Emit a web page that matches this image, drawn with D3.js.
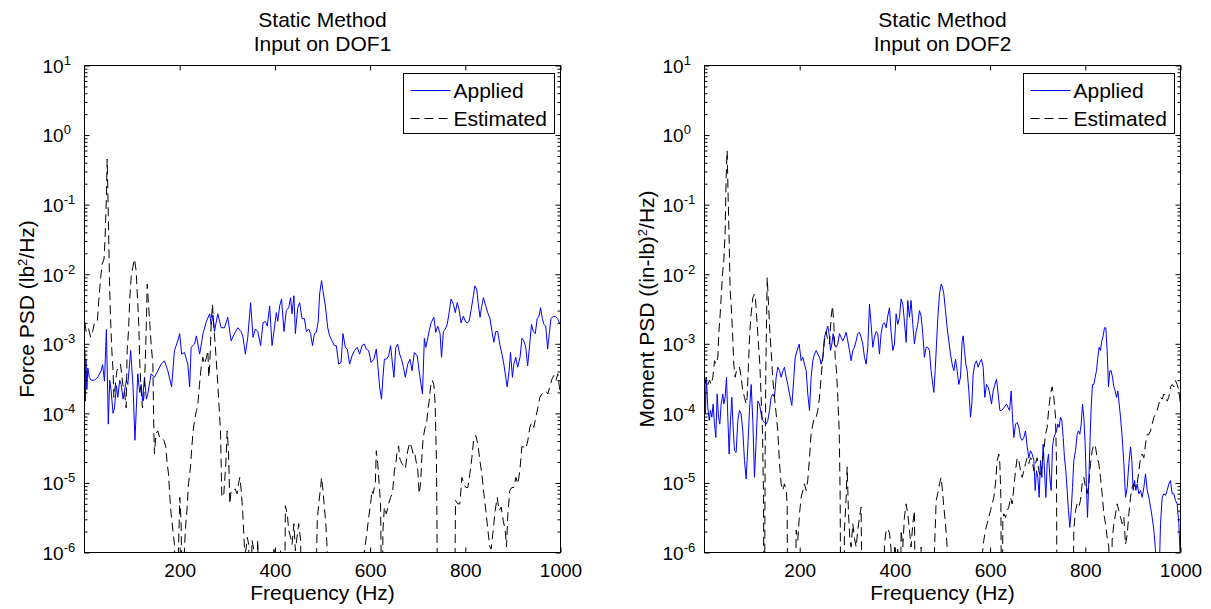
<!DOCTYPE html>
<html>
<head>
<meta charset="utf-8">
<script src="https://cdn.jsdelivr.net/npm/d3@7"></script>
<style>
  body { margin: 0; background: #fff; }
  text { font-family: "Liberation Sans", Arial, sans-serif; fill: #000; }
</style>
</head>
<body>
<div id="viz"></div>
<script>
// ---- data: [frequency Hz, PSD] ----
const appliedDOF1 = [[1,8e-4],[2,1.5e-4],[3,6e-4],[5,2.2e-4],[7,4.5e-4],[10,3.3e-4],[14,3.0e-4],[21,3.0e-4],[28,3.3e-4],[35,4.1e-4],[38,5e-4],[42,2.9e-4],[46,1.6e-3],[50,7e-5],[53,3e-4],[56,2.1e-4],[60,1e-4],[63,1.2e-4],[67,2.5e-4],[70,1.7e-4],[74,3e-4],[77,2.6e-4],[81,1.6e-4],[84,2.1e-4],[88,3e-4],[91,2.6e-4],[97,8e-4],[102,2.4e-4],[106,4.1e-5],[112,3.7e-4],[116,2e-4],[119,2.6e-4],[122,1.5e-4],[126,3.3e-4],[130,1.6e-4],[133,1.9e-4],[140,3.7e-4],[147,3.3e-4],[154,4.1e-4],[161,5.1e-4],[168,5.7e-4],[175,4.1e-4],[183,2.4e-4],[189,8e-4],[196,1.1e-3],[200,1.4e-3],[204,7.1e-4],[210,7.5e-4],[217,5.1e-4],[221,2.4e-4],[224,8.9e-4],[231,9.9e-4],[235,1.3e-3],[242,7.1e-4],[249,1.4e-3],[256,2.1e-3],[263,2.7e-3],[266,1.9e-3],[270,2.6e-3],[273,1.5e-3],[280,2.7e-3],[287,1.7e-3],[294,1.7e-3],[301,2.4e-3],[308,1.1e-3],[315,1.4e-3],[322,1.7e-3],[329,1.5e-3],[333,1.24e-3],[338,7.1e-4],[343,1.24e-3],[349,3.9e-3],[354,1.24e-3],[359,1.63e-3],[364,1.5e-3],[370,9.4e-4],[375,2e-3],[380,2.1e-3],[384,1.8e-3],[389,3.5e-3],[394,9.4e-4],[398,1.5e-3],[403,2.8e-3],[406,2.1e-3],[410,3.5e-3],[414,4.4e-3],[419,1.5e-3],[424,3e-3],[429,3.3e-3],[433,4.6e-3],[436,2.7e-3],[440,4.9e-3],[443,1.4e-3],[448,3.3e-3],[452,3.9e-3],[457,2.3e-3],[462,2.3e-3],[466,1.5e-3],[471,1.63e-3],[475,1.4e-3],[479,9.4e-4],[483,1.4e-3],[487,1.46e-3],[491,2.1e-3],[494,5.2e-3],[498,8.1e-3],[501,5.8e-3],[506,3.5e-3],[511,1.7e-3],[515,1.3e-3],[520,1.1e-3],[525,9.4e-4],[529,9.4e-4],[534,5.1e-4],[539,5.4e-4],[543,1.4e-3],[548,8.9e-4],[552,8.4e-4],[557,5.1e-4],[562,6.7e-4],[567,8e-4],[573,8.9e-4],[578,7.1e-4],[583,9.4e-4],[588,9.9e-4],[592,8.4e-4],[597,8e-4],[602,5.4e-4],[608,6e-4],[613,8.4e-4],[616,5.1e-4],[620,2.4e-4],[624,1.6e-4],[627,3.3e-4],[630,6e-4],[634,6e-4],[639,6.7e-4],[643,9.4e-4],[646,6e-4],[650,3.3e-4],[654,8.9e-4],[658,9.9e-4],[662,7.1e-4],[666,6e-4],[670,4.6e-4],[674,3.3e-4],[679,5.1e-4],[684,6e-4],[688,4.1e-4],[693,7.5e-4],[699,6.7e-4],[703,4.1e-4],[707,2.6e-4],[710,1.9e-4],[714,1.2e-3],[717,8.9e-4],[720,1.1e-3],[724,1.5e-3],[728,2e-3],[734,2.4e-3],[738,1.46e-3],[742,1.8e-3],[747,1.4e-3],[750,6.4e-4],[754,1.5e-3],[758,1.63e-3],[762,1.9e-3],[766,2.8e-3],[770,4.4e-3],[775,3.7e-3],[779,2.8e-3],[783,3.9e-3],[787,3.1e-3],[791,2e-3],[796,2.5e-3],[800,2.1e-3],[804,2e-3],[808,2.1e-3],[812,3e-3],[817,4.9e-3],[820,6.8e-3],[824,6.1e-3],[827,3.9e-3],[831,2.4e-3],[834,3.3e-3],[838,4.6e-3],[843,3.5e-3],[847,2.8e-3],[852,2.3e-3],[856,1.5e-3],[860,1.05e-3],[864,1.5e-3],[868,1.5e-3],[873,9.4e-4],[877,7.1e-4],[881,5.1e-4],[885,3.3e-4],[888,2.4e-4],[892,4.1e-4],[895,7.5e-4],[899,3.3e-4],[902,5.1e-4],[906,6.4e-4],[910,4.6e-4],[915,6.4e-4],[919,1.2e-3],[923,1.1e-3],[927,8.9e-4],[931,4.8e-4],[936,1.1e-3],[939,1.9e-3],[943,1.5e-3],[947,1.4e-3],[951,2.3e-3],[955,2.5e-3],[958,3.3e-3],[962,2.3e-3],[965,1.9e-3],[969,1.8e-3],[973,8.4e-4],[977,1.5e-3],[980,2.3e-3],[985,2.5e-3],[990,2.45e-3],[994,2.3e-3],[999,1.9e-3]];

const estimatedDOF1 = [[1,2e-3],[3.5,1.5e-3],[8,1.7e-3],[13,1.24e-3],[17,1.5e-3],[21,2e-3],[27,2.1e-3],[30,4.2e-3],[34,9e-3],[37,1.4e-2],[41,1.65e-2],[43,3e-2],[46,0.127],[47.6,0.45],[50,0.073],[52.5,8.1e-3],[54.6,2.4e-3],[57.4,8e-4],[60,4.1e-4],[61.6,1.7e-4],[64.4,2.4e-4],[68,4.1e-4],[71.4,4.6e-4],[75.6,5.1e-4],[80.5,2.6e-4],[84,2.1e-4],[87.5,1.2e-4],[89.6,8e-4],[92.4,1.5e-3],[95.2,4.6e-3],[98,9e-3],[101.5,1.25e-2],[105,1.65e-2],[108.5,1.12e-2],[112,3.7e-3],[114,1.9e-3],[116.2,5.1e-4],[119,2.1e-4],[121.8,1.2e-4],[124.7,1.7e-4],[127.5,5.1e-4],[130.3,2.4e-3],[131.7,7.2e-3],[134.5,3.7e-3],[137.3,1.9e-3],[140,9.9e-4],[143.6,5.1e-4],[145.7,5.6e-5],[147,2.6e-5],[150,5.1e-5],[154,5.6e-5],[158,4.5e-5],[162.5,4.5e-5],[166.7,4.1e-5],[170.9,3.3e-5],[173.7,1.9e-5],[176.5,1.35e-5],[179.3,6.2e-6],[182,3.6e-6],[185.6,2.1e-6],[189,1.3e-6],[192.6,3e-8],[197.5,1.2e-6],[200.3,6.2e-6],[203,2.6e-6],[206.6,3e-8],[210,1.2e-6],[212.9,2.6e-6],[215.7,4.5e-6],[218.5,9.7e-6],[222.7,1.7e-5],[225.5,3.3e-5],[228.3,5.6e-5],[231.1,7.9e-5],[235.3,1.1e-4],[238.1,1.36e-4],[241.6,2.6e-4],[245.1,4.6e-4],[248.6,6.4e-4],[252.1,5.1e-4],[256.3,6.4e-4],[259.1,8e-4],[261.2,3.3e-4],[263.3,5.1e-4],[266.1,1.9e-3],[268.9,3.7e-3],[271.7,1.7e-3],[274.5,9.9e-4],[277.3,5.1e-4],[280.1,2.6e-4],[283.6,9.8e-5],[285.7,5.6e-5],[288.5,6.2e-6],[292.7,7e-6],[296.9,1.9e-5],[299.7,5.6e-5],[302.5,2.9e-5],[305.3,5e-6],[308.1,7.8e-6],[312.3,7.8e-6],[316.5,8.2e-6],[320.7,7e-6],[323.5,9.7e-6],[326.3,1.2e-5],[329.1,8e-6],[332.6,3.6e-6],[336,1.2e-6],[338,1e-6],[340,1.2e-6],[342,1.65e-6],[345,1.3e-6],[348,5e-8],[352,1.5e-6],[356,1.06e-6],[360,5e-8],[364,1.5e-6],[368,5e-8],[396,5e-8],[398,1.2e-6],[401,5e-8],[410,5e-8],[412,1.06e-6],[414,5e-8],[420,5e-8],[422,4.7e-6],[426,3.6e-6],[429,2.1e-6],[433,1.65e-6],[436,1.3e-6],[440,2.6e-6],[443,1.06e-6],[450,2.6e-6],[454,1.5e-6],[457,5e-8],[484,5e-8],[489,2.9e-6],[492,5e-6],[496,8.6e-6],[498,1.2e-5],[501,7.8e-6],[504,4.5e-6],[507,2.6e-6],[510,1.06e-6],[513,5e-8],[585,5e-8],[587,9.5e-7],[590,1.3e-6],[594,2.1e-6],[597,3.2e-6],[601,5e-6],[604,7.8e-6],[606,7e-6],[611,9.7e-6],[613,2.9e-5],[616,1.9e-5],[619,9.7e-6],[622,5e-6],[625,5e-8],[627,2.1e-6],[630,4.5e-6],[634,3.6e-6],[639,5e-6],[643,6.2e-6],[647,7e-6],[651,1.5e-5],[654,1.9e-5],[657,2.9e-5],[660,3.4e-5],[662,2.3e-5],[664,2.1e-5],[667,1.9e-5],[674,1.6e-5],[679,2.9e-5],[683.5,3.8e-5],[687,3.3e-5],[690.5,2.6e-5],[693.3,2.75e-5],[697.5,1.9e-5],[700.3,1.5e-5],[703,7e-6],[706,9.7e-6],[708.7,2.3e-5],[711.5,4.5e-5],[715.7,6.3e-5],[718.5,7e-5],[721.3,1.1e-4],[724.1,1.5e-4],[726.9,2.4e-4],[730.4,3e-4],[733.9,2.6e-4],[736.7,1.36e-4],[739.5,1.9e-5],[743,1e-8],[776,1e-8],[779.5,5.6e-6],[784.4,5e-6],[788.6,5e-6],[792.8,1.2e-5],[797,9.7e-6],[801.2,8.6e-6],[805.4,8.6e-6],[809.6,1.35e-5],[813.8,2.3e-5],[818,4.5e-5],[822.2,4.8e-5],[826.4,3.6e-5],[830.6,2.1e-5],[834.8,1.35e-5],[839,7e-6],[843.2,4e-6],[847.4,2.1e-6],[851.6,1.2e-6],[854.4,1.12e-6],[858.6,2.1e-6],[862.8,4e-6],[867,6.2e-6],[871.2,4e-6],[875.4,4.5e-6],[879.6,2.9e-6],[883.8,2.1e-6],[886.6,1.2e-6],[889.4,3.6e-6],[893.6,7.8e-6],[897.8,8.6e-6],[902,8.6e-6],[906.2,1.2e-5],[910.4,9.7e-6],[914.6,1.5e-5],[918.8,3.3e-5],[923,3.3e-5],[927.2,3.1e-5],[931.4,4.1e-5],[935.6,6.3e-5],[939.8,7.4e-5],[944,6.3e-5],[948.2,8.8e-5],[952.4,1.2e-4],[956.6,1.7e-4],[960.8,1.9e-4],[965,2e-4],[969.2,2.1e-4],[973.4,1.9e-4],[977.7,2.4e-4],[981.9,3.1e-4],[986.1,3.5e-4],[990.3,2.95e-4],[994.4,3.7e-4],[998.6,2.1e-4]];

const appliedDOF2 = [[1,2.6e-4],[2,9.8e-5],[4,3.3e-4],[7,1.2e-4],[10,7.9e-5],[12.6,1.1e-4],[15.4,8.8e-5],[18.2,1.36e-4],[21,7e-5],[23.8,4.5e-5],[26.6,1.9e-4],[29.4,8.8e-5],[32.2,7e-5],[35,1.36e-4],[38.5,1.9e-4],[40.6,1.36e-4],[43.4,1.7e-4],[46.2,3.3e-4],[49,8.8e-5],[51.8,2.6e-5],[54.6,7.9e-5],[57.4,1.7e-4],[60.2,6.3e-5],[63,2.9e-5],[66.5,2.75e-5],[70,7.9e-5],[73.5,1.1e-4],[77,9.8e-5],[80.5,5.6e-5],[84,2.1e-5],[87.5,1.14e-5],[91,3.3e-5],[94.5,1.1e-4],[98,2.6e-4],[101.5,7.9e-5],[105,1.2e-5],[108.5,4.1e-5],[112,1.5e-4],[115.5,1.36e-4],[119,9.8e-5],[122.5,7.9e-5],[126,7.4e-5],[129.5,7e-5],[133,7.9e-5],[136.5,1.1e-4],[140,1.7e-4],[143.6,1.9e-4],[147,1.7e-4],[150.6,3.3e-4],[154,4.6e-4],[157.6,4.1e-4],[161,3.3e-4],[164.6,4.1e-4],[168,4.6e-4],[171.6,3.3e-4],[175,2.6e-4],[178.6,1.9e-4],[183.5,1.3e-4],[187.7,3.3e-4],[190.5,6.4e-4],[194.7,8e-4],[198.9,9.9e-4],[203,5.7e-4],[206.6,6.4e-4],[210,5.1e-4],[213.6,4.1e-4],[217,1.9e-4],[220.6,1.1e-4],[224,3.3e-4],[227.6,5.7e-4],[231,7.1e-4],[234.6,8e-4],[238,7.1e-4],[241.6,6.4e-4],[245,5.1e-4],[248.6,6.4e-4],[252,1.24e-3],[255.6,1.5e-3],[259,1.8e-3],[262.6,1.24e-3],[264.7,8e-4],[267.5,9.9e-4],[270.3,1.4e-3],[273,9.9e-4],[276.6,8.9e-4],[280,9.9e-4],[283.6,1.4e-3],[287,1.24e-3],[290.6,1.1e-3],[294,1.24e-3],[297.6,1.46e-3],[301,1.1e-3],[304.6,8e-4],[308,5.7e-4],[311.6,8e-4],[315,8.9e-4],[318.6,1.1e-3],[322,1.4e-3],[325.6,1.46e-3],[329,1.24e-3],[332.6,9.9e-4],[336,6.4e-4],[339.6,5.1e-4],[343,8.9e-4],[346.6,3.7e-3],[350,1.9e-3],[353.6,8.9e-4],[357,1.24e-3],[360.6,1.5e-3],[364,1.4e-3],[367.6,7.1e-4],[371,1.4e-3],[374.6,1.9e-3],[378,2e-3],[381.6,1.7e-3],[385,2.5e-3],[388.6,3.3e-3],[392,1.5e-3],[395.6,8e-4],[399,9.9e-4],[402.6,2.7e-3],[406,1.9e-3],[409.6,2.4e-3],[413,4.4e-3],[416.6,3.7e-3],[420,2.1e-3],[423.6,1.05e-3],[427,4.2e-3],[430.6,2.4e-3],[434,4.2e-3],[437.6,1.9e-3],[441,9.9e-4],[444.6,1.5e-3],[448,1.9e-3],[451.6,3e-3],[455,2.5e-3],[458.6,1.4e-3],[462,6.4e-4],[465.6,8.9e-4],[469,8.9e-4],[472.6,8e-4],[476,4.1e-4],[479.7,2.6e-4],[481.8,2e-4],[484.6,4.1e-4],[487.4,9.9e-4],[490.2,2.4e-3],[493.7,5.2e-3],[497.2,7.2e-3],[500,6.5e-3],[502.8,5.2e-3],[506.3,3e-3],[509.8,1.7e-3],[513.3,1.1e-3],[516.8,7.1e-4],[520.3,5.1e-4],[523.8,4.1e-4],[527.3,6e-4],[530.8,4.1e-4],[534.3,2.6e-4],[537.8,3.3e-4],[541.3,1.1e-3],[543.4,1.3e-3],[546.2,8e-4],[549,5.1e-4],[551.8,4.1e-4],[555.3,2.1e-4],[558.8,8.8e-5],[561.6,1.36e-4],[564.4,3.7e-4],[567.9,5.1e-4],[571.4,5.7e-4],[574.9,4.6e-4],[578.4,5.4e-4],[581.9,6e-4],[585.4,4.6e-4],[588.9,1.7e-4],[592.4,2.6e-4],[595.9,2.4e-4],[599.4,1.9e-4],[603,1.36e-4],[606.4,2.1e-4],[610,2.6e-4],[613.5,3.1e-4],[617,1.9e-4],[620.5,1.1e-4],[624,1.1e-4],[628.9,1.2e-4],[634.5,1.36e-4],[638,1.2e-4],[640.8,1.1e-4],[644.3,2.1e-4],[647.1,8.8e-5],[649.9,4.5e-5],[653.4,7e-5],[656.9,7.4e-5],[660.4,6.3e-5],[663.9,4.5e-5],[667.4,4.1e-5],[670.9,4.5e-5],[674.4,5.6e-5],[677.9,3.3e-5],[681.4,2.3e-5],[684.9,2.9e-5],[688.4,2.6e-5],[691.9,2.1e-5],[694.7,7.8e-6],[697.5,1.5e-5],[700.3,1.2e-5],[703.1,6.2e-6],[705.9,2.1e-5],[708.7,1.2e-5],[711.5,3.6e-5],[714.3,1.5e-5],[717.1,6.2e-6],[719.9,1.9e-5],[722.7,2.6e-5],[725.5,1.2e-5],[728.3,7.8e-6],[731.1,3.3e-5],[733.9,4.5e-5],[736.7,5e-5],[739.5,5.6e-5],[742.3,7e-5],[745.1,6.3e-5],[747.9,8.8e-5],[750.7,7.9e-5],[753.5,4.5e-5],[756.3,2.3e-5],[759.1,1.5e-5],[761.9,7.8e-6],[764.7,4e-6],[767.5,2.3e-6],[770.3,4e-6],[773.1,8.6e-6],[775.9,2.1e-5],[779.4,2.9e-5],[782.9,5e-5],[785.7,5.6e-5],[788.5,5e-5],[791.3,7e-5],[794.1,1.36e-4],[796.9,8.8e-5],[799.7,3.6e-5],[802.5,8.6e-6],[804.6,3.2e-6],[806.7,7.8e-6],[809.5,3.3e-5],[812.3,1.2e-4],[815.1,2.6e-4],[817.9,2.6e-4],[820.7,3.3e-4],[823.5,4.1e-4],[826.3,6.4e-4],[829.1,8.9e-4],[831.9,8e-4],[834.7,1.1e-3],[837.5,1.3e-3],[840.3,1.7e-3],[843.1,1.7e-3],[845.9,8e-4],[848.7,2.4e-4],[851.5,4.1e-4],[854.3,4.1e-4],[857.2,3.3e-4],[860,2.4e-4],[862.8,2.1e-4],[865.6,1.7e-4],[868.4,2.1e-4],[871.2,1.36e-4],[874,8.8e-5],[877.5,4.5e-5],[881,1.9e-5],[884.5,6.2e-6],[888,8.6e-6],[891.5,1.9e-5],[895,3.3e-5],[897.8,2.1e-5],[900.6,7.8e-6],[903.4,1.08e-5],[906.2,7.8e-6],[909,9.7e-6],[912.5,7e-6],[916,7.8e-6],[919.5,6.2e-6],[923,8.6e-6],[926.5,1.35e-5],[930,7.8e-6],[933.5,6.2e-6],[937,4.5e-6],[940.5,3.2e-6],[944,2.1e-6],[947.5,1.06e-6],[949.5,3e-7],[954.5,3e-7],[958,2.6e-6],[961.5,6.2e-6],[965,7e-6],[968.5,6.6e-6],[972,7.8e-6],[975.5,9.7e-6],[979,1.08e-5],[982.5,7e-6],[986,7e-6],[989.5,5.6e-6],[993,5e-6],[996.5,2.6e-6],[1000,6.9e-7]];

const estimatedDOF2 = [[1,2.6e-4],[3.5,3.3e-4],[7,2.6e-4],[10.5,3e-4],[14,2.6e-4],[17.5,3.3e-4],[21,5.7e-4],[24.5,5.1e-4],[28,6.4e-4],[30,1.4e-3],[33,2.7e-3],[35,4.6e-3],[37.8,1e-2],[40.6,1.56e-2],[43.4,4.2e-2],[45.5,0.25],[47.6,0.6],[49.7,0.127],[51.8,0.03],[53.9,5.8e-3],[56,3.7e-3],[58.8,1.5e-3],[61.6,5.1e-4],[64.4,3.3e-4],[67.2,4.1e-4],[70,4.1e-4],[73.5,4.6e-4],[77,3.3e-4],[80.5,2.1e-4],[84,1.7e-4],[87.5,1.36e-4],[89.6,1.7e-4],[92.4,5.1e-4],[95.2,1.5e-3],[98,2.7e-3],[101.5,4.6e-3],[105,5.2e-3],[107,4.6e-3],[110.6,1.9e-3],[113.4,9.9e-4],[116.2,5.1e-4],[119,1.7e-4],[121.8,5.6e-5],[124,6.2e-6],[125.4,1e-8],[127.5,3e-5],[129,5.1e-4],[130.5,2.4e-3],[131.7,9e-3],[134.5,3.7e-3],[137.3,1.5e-3],[140,8e-4],[143.6,3e-4],[147,1.7e-4],[150.6,9.8e-5],[154,5.6e-5],[157.6,1.9e-5],[161,9.7e-6],[164.6,7.8e-6],[168,9.7e-6],[171.6,7.8e-6],[173.7,5e-6],[175,1e-8],[189,1e-8],[192.6,2.1e-6],[196,1.5e-6],[199.6,3.6e-6],[203,6.2e-6],[206.6,7.8e-6],[210,9.7e-6],[213.6,7.8e-6],[217,1.1e-5],[220.6,2.3e-5],[224,5.1e-5],[227.6,7e-5],[231,8.8e-5],[234.6,8.8e-5],[238,1.1e-4],[241.6,1.7e-4],[245,3.3e-4],[248.6,6.4e-4],[252,1.1e-3],[255.6,1.5e-3],[259,1.1e-3],[262.6,9.9e-4],[266,2.4e-3],[269,3.5e-3],[271.7,1.9e-3],[274.5,6.4e-4],[277.3,4.1e-4],[280,1.7e-4],[283,5.6e-5],[285,6.2e-6],[287,1e-8],[292,1e-8],[294,2.1e-6],[297.6,6.2e-6],[299.7,1.7e-5],[302.5,3.6e-6],[305.3,1.6e-6],[308,1.2e-6],[311.6,2.6e-6],[315,1.6e-6],[318.6,1.2e-6],[322,2.1e-6],[325.6,3.2e-6],[329,4.5e-6],[332.6,1e-8],[375,1e-8],[378,1.3e-6],[381.6,2.1e-6],[385,2.2e-6],[388.6,1.9e-6],[392,1.1e-6],[395,5e-8],[397,5e-8],[399,1.2e-6],[402,5e-8],[404,5e-8],[406,1.2e-6],[408,5e-8],[411,5e-8],[413,2.1e-6],[416.6,1.2e-6],[420,3.2e-6],[423.6,5e-6],[427,3.6e-6],[430.6,2.1e-6],[434,1.2e-6],[437.6,2.6e-6],[441,4e-6],[444.6,1e-8],[453,5e-8],[455,1.2e-6],[457,5e-8],[481,5e-8],[483,1e-6],[486.7,5.6e-6],[490,7e-6],[493.7,9.7e-6],[497,1.2e-5],[499.3,8.6e-6],[502.8,4.5e-6],[506.3,2.6e-6],[509.8,1.2e-6],[511,1e-8],[582,1e-8],[584,1e-6],[586.8,1.5e-6],[590.3,2.1e-6],[593.8,2.6e-6],[597.3,3.2e-6],[600.8,4e-6],[604.3,5e-6],[607.8,6.2e-6],[611.3,9.7e-6],[614.8,2.1e-5],[618.4,2.6e-5],[620.5,1.9e-5],[622.6,6.2e-6],[624.7,1e-8],[626.8,2.9e-6],[628.9,3.6e-6],[632.4,3.2e-6],[635.9,4e-6],[639.4,4.5e-6],[642.9,6.2e-6],[646.4,5e-6],[649.9,8.6e-6],[653.4,1.5e-5],[656.9,2.3e-5],[660.4,2.1e-5],[663.9,1.5e-5],[667.4,1.2e-5],[670.9,1.5e-5],[674.4,1.9e-5],[677.9,2.3e-5],[681.4,1.9e-5],[684.9,2.3e-5],[688.4,2.1e-5],[691.9,1.5e-5],[695.4,1.9e-5],[698.9,2.3e-5],[702.4,1.5e-5],[705.9,1.2e-5],[709.4,1.9e-5],[712.9,2.9e-5],[716.4,5e-5],[719.9,6.3e-5],[723.4,1.2e-4],[726.9,1.9e-4],[730.4,2.4e-4],[733.9,1.7e-4],[737.4,8.8e-5],[739.5,1.9e-5],[741,1e-8],[772.4,1e-8],[775.9,2.1e-6],[779.4,4e-6],[782.9,5e-6],[786.4,4.5e-6],[789.9,5.6e-6],[793.4,9.7e-6],[796.9,1.2e-5],[800.4,8.6e-6],[803.9,7e-6],[807.4,9.7e-6],[810.9,1.9e-5],[814.4,2.9e-5],[817.9,3.6e-5],[821.4,3.3e-5],[824.9,2.3e-5],[828.4,1.9e-5],[831.9,1.2e-5],[835.4,7e-6],[838.9,3.6e-6],[842.4,2.6e-6],[845.9,1.65e-6],[849.4,1.2e-6],[852,1e-8],[854,1e-8],[856.4,1.5e-6],[860,2.6e-6],[863.5,3.6e-6],[867,5e-6],[870.5,4e-6],[874,3.2e-6],[877.5,2.6e-6],[881,3.2e-6],[884.5,1.3e-6],[888,1.8e-6],[891.5,3.6e-6],[895,6.2e-6],[898.5,8.6e-6],[902,9.7e-6],[905.5,8.6e-6],[909,9.7e-6],[912.5,1.5e-5],[916,2.3e-5],[919.5,2.6e-5],[923,2.3e-5],[926.5,3.6e-5],[930,5e-5],[933.5,5e-5],[937,5.6e-5],[940.5,7e-5],[944,8.8e-5],[947.5,9.8e-5],[951,1.1e-4],[954.5,1.36e-4],[958,1.7e-4],[961.5,1.6e-4],[965,1.9e-4],[968.5,1.7e-4],[972,1.5e-4],[975.5,1.7e-4],[979,2.4e-4],[982.5,2.6e-4],[986,2.4e-4],[989.5,2.95e-4],[993,2.6e-4],[996.5,2.1e-4],[1000,1.36e-4]];

const xTickValues = [200, 400, 600, 800, 1000];
const yDecades = [-6, -5, -4, -3, -2, -1, 0, 1];
const titleLines = [["Static Method", "Input on DOF1"], ["Static Method", "Input on DOF2"]];
const yLabelParts = [["Force PSD (lb", "2", "/Hz)"], ["Moment PSD ((in-lb)", "2", "/Hz)"]];
const xLabelText = "Frequency (Hz)";
const legendNames = ["Applied", "Estimated"];

// ---- layout ----
const CONST = {
  width: 1211, height: 609,
  axes: [{left: 84, top: 65}, {left: 704, top: 65}],
  plotW: 476, plotH: 487,
  font: {tick: 19, sup: 13, label: 21},
  colors: {applied: "#0000ff", estimated: "#000000"},
  dash: "9,5"
};

const svg = d3.select("#viz").append("svg")
  .attr("width", CONST.width)
  .attr("height", CONST.height);

function drawPanel(i, applied, estimated) {
  const W = CONST.plotW, H = CONST.plotH;
  const g = svg.append("g")
    .attr("transform", `translate(${CONST.axes[i].left + 0.5},${CONST.axes[i].top + 0.5})`);

  const x = d3.scaleLinear().domain([0, 1000]).range([0, W]);
  const y = d3.scaleLog().domain([1e-6, 10]).range([H, 0]);

  const majors = yDecades.map(e => Math.pow(10, e));
  const minors = [];
  yDecades.slice(0, -1).forEach(e => {
    for (let k = 2; k <= 9; k++) minors.push(k * Math.pow(10, e));
  });

  // clip
  g.append("clipPath").attr("id", `clip${i}`)
    .append("rect").attr("width", W).attr("height", H);

  // curves
  const line = d3.line().x(d => x(d[0])).y(d => y(d[1]));
  const curves = g.append("g").attr("clip-path", `url(#clip${i})`);
  curves.append("path").datum(applied)
    .attr("d", line).attr("fill", "none")
    .attr("stroke", CONST.colors.applied).attr("stroke-width", 1);
  curves.append("path").datum(estimated)
    .attr("d", line).attr("fill", "none")
    .attr("stroke", CONST.colors.estimated).attr("stroke-width", 1)
    .attr("stroke-dasharray", CONST.dash);

  // x axes (bottom + top), ticks inward
  const xb = g.append("g").attr("transform", `translate(0,${H})`)
    .call(d3.axisBottom(x).tickValues(xTickValues).tickFormat(d3.format("d"))
      .tickSizeInner(-5).tickSizeOuter(0).tickPadding(11));
  xb.selectAll("text").attr("font-size", CONST.font.tick)
    .attr("font-family", "Liberation Sans, Arial, sans-serif").attr("fill", "#000");
  g.append("g")
    .call(d3.axisTop(x).tickValues(xTickValues).tickSizeInner(-5).tickSizeOuter(0).tickFormat(""));

  // y axes (left + right), majors + minors
  const yl = g.append("g")
    .call(d3.axisLeft(y).tickValues(majors).tickSizeInner(-5).tickSizeOuter(0).tickFormat(""));
  g.append("g")
    .call(d3.axisLeft(y).tickValues(minors).tickSizeInner(-3).tickSizeOuter(0).tickFormat(""));
  g.append("g").attr("transform", `translate(${W},0)`)
    .call(d3.axisRight(y).tickValues(majors).tickSizeInner(-5).tickSizeOuter(0).tickFormat(""));
  g.append("g").attr("transform", `translate(${W},0)`)
    .call(d3.axisRight(y).tickValues(minors).tickSizeInner(-3).tickSizeOuter(0).tickFormat(""));
  g.selectAll(".domain").remove();
  g.selectAll(".tick line").attr("stroke", "#000");

  // power-of-ten labels
  yl.selectAll(".tick").each(function(d) {
    const t = d3.select(this).append("text")
      .attr("x", -42).attr("dy", "0.36em")
      .attr("text-anchor", "start")
      .attr("font-size", CONST.font.tick)
      .attr("font-family", "Liberation Sans, Arial, sans-serif")
      .attr("fill", "#000");
    t.append("tspan").text("10");
    t.append("tspan").attr("dy", -8).attr("font-size", CONST.font.sup)
      .text(Math.round(Math.log10(d)));
  });

  // box
  g.append("rect").attr("width", W).attr("height", H)
    .attr("fill", "none").attr("stroke", "#000").attr("stroke-width", 1);

  // titles
  titleLines[i].forEach((s, k) => {
    g.append("text").attr("x", W / 2).attr("y", -39 + k * 24)
      .attr("text-anchor", "middle").attr("font-size", CONST.font.label).text(s);
  });

  // x label
  g.append("text").attr("x", W / 2).attr("y", H + 47)
    .attr("text-anchor", "middle").attr("font-size", CONST.font.label).text(xLabelText);

  // y label
  const yt = g.append("text")
    .attr("transform", `translate(-51,${H / 2}) rotate(-90)`)
    .attr("text-anchor", "middle").attr("font-size", CONST.font.label);
  yt.append("tspan").text(yLabelParts[i][0]);
  yt.append("tspan").attr("dy", -7).attr("font-size", CONST.font.sup).text(yLabelParts[i][1]);
  yt.append("tspan").attr("dy", 7).text(yLabelParts[i][2]);

  // legend
  const lg = g.append("g").attr("transform", `translate(${W - 157},${8})`);
  lg.append("rect").attr("width", 151).attr("height", 60)
    .attr("fill", "#fff").attr("stroke", "#000").attr("stroke-width", 1);
  legendNames.forEach((name, k) => {
    const yy = 17 + k * 28;
    lg.append("line").attr("x1", 7).attr("x2", 47).attr("y1", yy).attr("y2", yy)
      .attr("stroke", k === 0 ? CONST.colors.applied : CONST.colors.estimated)
      .attr("stroke-width", 1)
      .attr("stroke-dasharray", k === 0 ? null : CONST.dash);
    lg.append("text").attr("x", 50).attr("y", yy).attr("dy", "0.36em")
      .attr("font-size", CONST.font.label).text(name);
  });
}

drawPanel(0, appliedDOF1, estimatedDOF1);
drawPanel(1, appliedDOF2, estimatedDOF2);
</script>
</body>
</html>
